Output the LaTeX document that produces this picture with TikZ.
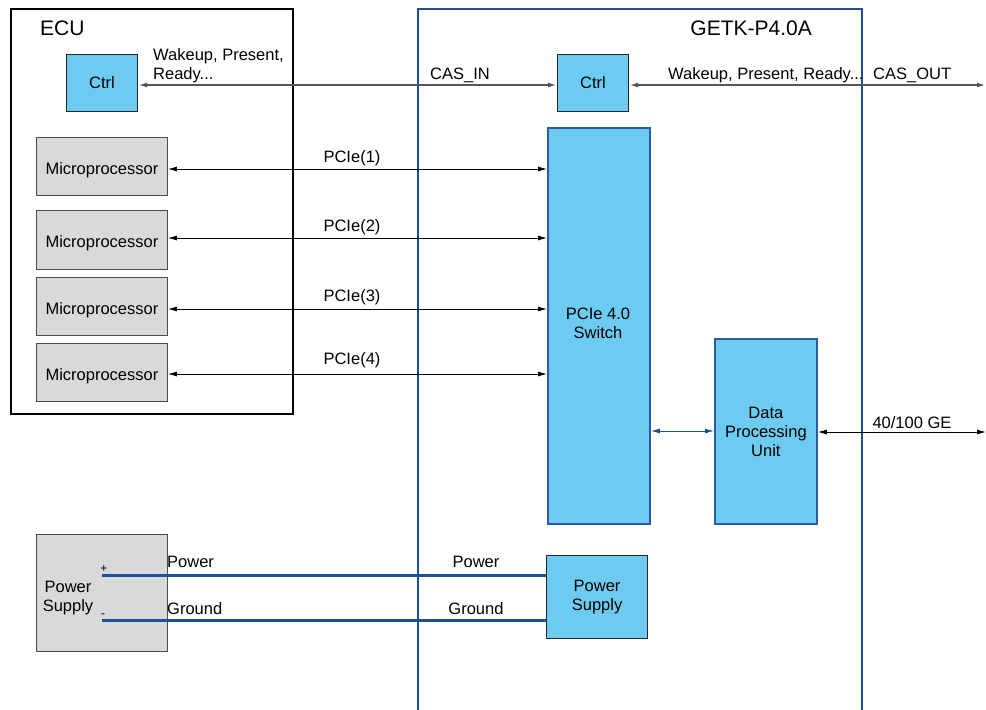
\documentclass[tikz,border=0pt]{standalone}
\usepackage{fontspec}
\setmainfont{Liberation Sans}
\usetikzlibrary{arrows.meta}
\definecolor{lblue}{HTML}{6DCBF2}
\definecolor{frameblue}{HTML}{1F4E9B}
\definecolor{boxblue}{HTML}{2A5AA8}
\definecolor{lgray}{HTML}{D9D9D9}
\definecolor{casgray}{HTML}{555555}
\newcommand{\lowtext}[1]{\raisebox{-2pt}[\height][0pt]{#1}}
\tikzset{
  base/.style={font=\fontsize{16.5}{19}\selectfont},
  ctrlbox/.style={draw=black!85, fill=lblue, line width=1.1pt, anchor=north west, inner sep=0pt, align=center, base},
  bluebox/.style={draw=boxblue, fill=lblue, line width=1.8pt, anchor=north west, inner sep=0pt, align=center, base},
  graybox/.style={draw=black!70, fill=lgray, line width=0.9pt, anchor=north west, inner sep=0pt, align=center, base},
  lbl/.style={inner sep=0pt, base, align=left},
  title/.style={inner sep=0pt, font=\fontsize{21}{24}\selectfont},
  tip/.style={{Latex[length=9pt,width=5pt]}-{Latex[length=9pt,width=5pt]}},
  pcie/.style={tip, draw=black, line width=0.9pt},
  cas/.style={tip, draw=casgray, line width=2pt},
  pwr/.style={draw=frameblue, line width=3pt},
}
\begin{document}
\begin{tikzpicture}[x=1pt,y=-1pt]
\useasboundingbox (0,0) rectangle (986,710);
% frames
\draw[line width=2.8pt, black] (11,9) rectangle (293,414);
\node[title, anchor=west] (ecu) at (40,28) {ECU};
\draw[line width=2.6pt, frameblue] (418,712) -- (418,9) -- (862,9) -- (862,712);
\node[title, anchor=east] (getk) at (812,28) {GETK-P4.0A};
% ECU boxes
\node[ctrlbox, minimum width=71pt, minimum height=57pt] (ectrl) at (66,54) {Ctrl};
\node[graybox, minimum width=131pt, minimum height=58pt] (mp1) at (36,137) {\lowtext{Microprocessor}};
\node[graybox, minimum width=131pt, minimum height=59pt] (mp2) at (36,210) {\lowtext{Microprocessor}};
\node[graybox, minimum width=131pt, minimum height=58pt] (mp3) at (36,277) {\lowtext{Microprocessor}};
\node[graybox, minimum width=131pt, minimum height=58pt] (mp4) at (36,343) {\lowtext{Microprocessor}};
\node[graybox, minimum width=131pt, minimum height=117pt] (psl) at (36,534) {};
\node[lbl, align=center] (pslt) at (68,598) {Power\\Supply};
% GETK boxes
\node[ctrlbox, minimum width=71pt, minimum height=57pt] (gctrl) at (557,54) {Ctrl};
\node[bluebox, minimum width=102pt, minimum height=396pt] (sw) at (547,127) {};
\node[lbl, align=center] (swt) at (598,323) {PCIe 4.0\\Switch};
\node[bluebox, minimum width=102pt, minimum height=185pt] (dpu) at (714,338) {Data\\Processing\\Unit};
\node[ctrlbox, minimum width=101pt, minimum height=83pt] (gps) at (546,555) {Power\\Supply};
% CAS
\coordinate (casout) at (986,85);
\draw[cas] (ectrl.east |- 0,85) -- (gctrl.west |- 0,85);
\draw[cas] (gctrl.east |- 0,85) -- (casout);
\node[lbl, anchor=south west] (wk1) at (153,83) {Wakeup, Present,\\Ready...};
\node[lbl, anchor=base] (casin) at (460,79) {CAS\_IN};
\node[lbl, anchor=base west] (wk2) at (668,79) {Wakeup, Present, Ready...};
\node[lbl, anchor=base west] (casoutl) at (873,79) {CAS\_OUT};
% PCIe
\draw[pcie] (mp1.east |- 0,169) -- (sw.west |- 0,169);
\draw[pcie] (mp2.east |- 0,238) -- (sw.west |- 0,238);
\draw[pcie] (mp3.east |- 0,309) -- (sw.west |- 0,309);
\draw[pcie] (mp4.east |- 0,374) -- (sw.west |- 0,374);
\node[lbl, anchor=base] (l1) at (352,162) {PCIe(1)};
\node[lbl, anchor=base] (l2) at (352,231) {PCIe(2)};
\node[lbl, anchor=base] (l3) at (352,301) {PCIe(3)};
\node[lbl, anchor=base] (l4) at (352,364) {PCIe(4)};
% switch - dpu
\draw[tip, draw=frameblue, line width=1pt] (sw.east |- 0,431) -- (dpu.west |- 0,431);
\coordinate (geout) at (986,432);
\draw[pcie] (dpu.east |- 0,432) -- (geout);
\node[lbl, anchor=base] (ge) at (912,428) {40/100 GE};
% power
\coordinate (plus) at (102,575);
\coordinate (minus) at (102,620);
\draw[pwr] (plus) -- (plus -| gps.west);
\draw[pwr] (minus) -- (minus -| gps.west);
\node[inner sep=0pt, font=\fontsize{12}{12}\selectfont, anchor=base] (pl) at (104,572) {+};
\node[inner sep=0pt, font=\fontsize{12}{12}\selectfont, anchor=base] (mi) at (103,617) {-};
\node[lbl, anchor=base west] (pw1) at (167,567) {Power};
\node[lbl, anchor=base west] (gd1) at (167,614) {Ground};
\node[lbl, anchor=base] (pw2) at (476,567) {Power};
\node[lbl, anchor=base] (gd2) at (476,614) {Ground};
\end{tikzpicture}
\end{document}
